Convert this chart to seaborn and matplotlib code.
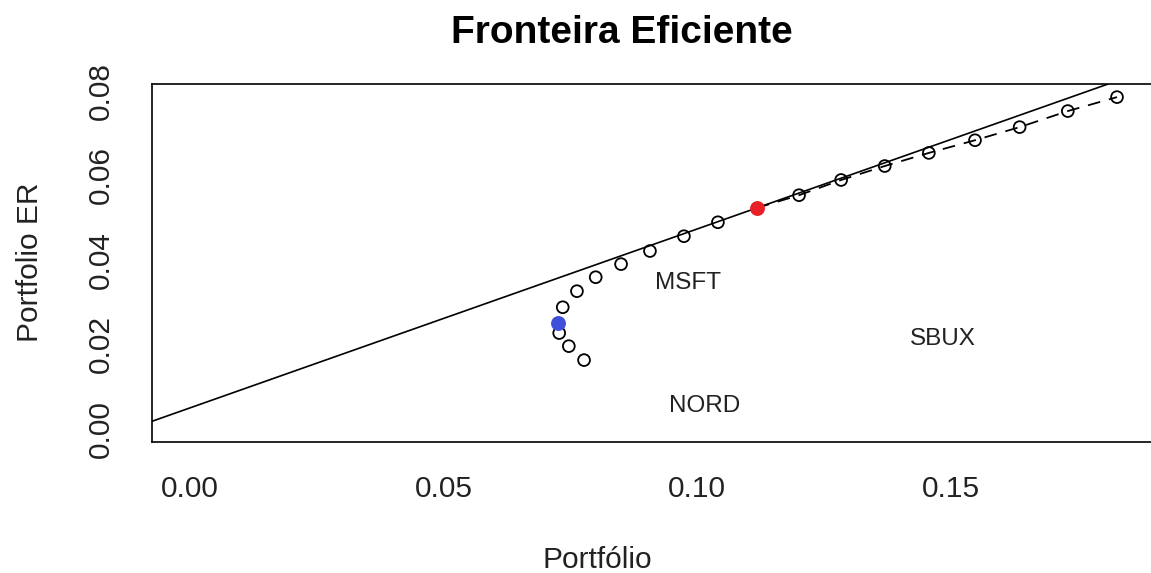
import numpy as np
import pandas as pd
import seaborn as sns
import matplotlib.pyplot as plt

# ---------------------------
# Data
# ---------------------------

# frontier portfolios (sd, expected return)
frontier_sd = [0.0728, 0.0747, 0.0777, 0.0735, 0.0763, 0.0800, 0.0850, 0.0907,
               0.0974, 0.1041, 0.1201, 0.1284, 0.1370, 0.1457, 0.1548, 0.1636,
               0.1731, 0.1828]
frontier_er = [0.0227, 0.0196, 0.0163, 0.0288, 0.0326, 0.0359, 0.0390, 0.0421,
               0.0456, 0.0489, 0.0553, 0.0589, 0.0622, 0.0653, 0.0683, 0.0714,
               0.0752, 0.0785]

# global minimum variance and tangency portfolios
gmin_sd, gmin_er = 0.0726, 0.0251
tan_sd, tan_er = 0.1118, 0.0523
rf = 0.005

# asset labels (as placed on the chart)
asset_names = ["MSFT", "NORD", "SBUX"]
asset_x = [0.0982, 0.1015, 0.1485]
asset_y = [0.0345, 0.0054, 0.0213]

frontier = pd.DataFrame({"sd": frontier_sd, "er": frontier_er})
upper = frontier[frontier["sd"] > tan_sd]
upper = pd.concat([pd.DataFrame({"sd": [tan_sd], "er": [tan_er]}), upper])
upper = upper.sort_values("sd")

# ---------------------------
# Plot
# ---------------------------

sns.set_style("white")
plt.rcParams["font.family"] = ["Liberation Sans", "DejaVu Sans"]

W, H = 1151, 573
fig = plt.figure(figsize=(W / 100, H / 100), dpi=100)
left, right, top, bottom = 152, 1153, 84, 442
ax = fig.add_axes([left / W, 1 - bottom / H, (right - left) / W, (bottom - top) / H])

# capital market line
ax.axline((0, rf), (tan_sd, tan_er), color="black", lw=1.2, zorder=1)

# dashed part of the frontier
sns.lineplot(data=upper, x="sd", y="er", ax=ax, color="black", lw=1.3,
             linestyle=(0, (7, 5)), sort=False, zorder=1)

sns.scatterplot(data=frontier, x="sd", y="er", ax=ax, marker="o",
                facecolor="none", edgecolor="black", linewidth=1.3, s=72, zorder=3)

ax.scatter([gmin_sd], [gmin_er], color="#3F4FD9", s=115, zorder=4, linewidths=0)
ax.scatter([tan_sd], [tan_er], color="#EA2027", s=115, zorder=4, linewidths=0)

for name, x, y in zip(asset_names, asset_x, asset_y):
    ax.text(x, y, name, ha="center", va="center", fontsize=17.5, color="#222222")

ax.set_xlim(-0.0075, 0.1899)
ax.set_ylim(-0.00307, 0.0816)
ax.set_xticks([0.00, 0.05, 0.10, 0.15])
ax.set_yticks([0.00, 0.02, 0.04, 0.06, 0.08])
ax.set_xticklabels(["0.00", "0.05", "0.10", "0.15"])
ax.set_yticklabels(["0.00", "0.02", "0.04", "0.06", "0.08"])

for s in ax.spines.values():
    s.set_color("black")
    s.set_linewidth(1.2)

ax.tick_params(axis="both", direction="out", length=13, width=1.2, color="black",
               labelsize=21.5, labelcolor="#222222")
ax.tick_params(axis="x", pad=11)
ax.tick_params(axis="y", pad=14, labelrotation=90)
for lbl in ax.get_yticklabels():
    lbl.set_va("center")

ax.set_xlabel("Portfólio", fontsize=21.5, color="#222222")
ax.set_ylabel("Portfolio ER", fontsize=21.5, color="#222222")
ax_w = (right - left)
ax_h = (bottom - top)
ax.xaxis.set_label_coords((597 - left) / ax_w, -(560 - bottom) / ax_h)
ax.xaxis.label.set_va("center")
ax.yaxis.set_label_coords(-(left - 30) / ax_w, (bottom - 262) / ax_h)
ax.yaxis.label.set_va("center")

fig.text(622 / W, 1 - 33 / H, "Fronteira Eficiente", ha="center", va="center",
         fontsize=28, fontweight="bold", color="black")

fig.savefig("out.png", dpi=100)
